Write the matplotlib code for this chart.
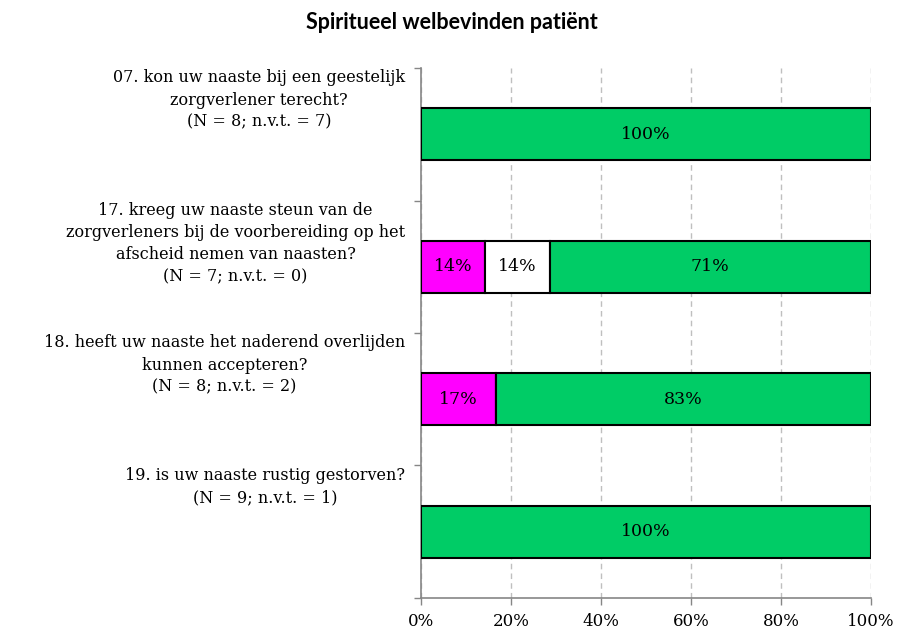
import matplotlib.pyplot as plt
import numpy as np

# data
questions = [
    "07. kon uw naaste bij een geestelijk\nzorgverlener terecht?\n(N = 8; n.v.t. = 7)",
    "17. kreeg uw naaste steun van de\nzorgverleners bij de voorbereiding op het\nafscheid nemen van naasten?\n(N = 7; n.v.t. = 0)",
    "18. heeft uw naaste het naderend overlijden\nkunnen accepteren?\n(N = 8; n.v.t. = 2)",
    "19. is uw naaste rustig gestorven?\n(N = 9; n.v.t. = 1)",
]
nee = [0, 14.3, 16.7, 0]
neutraal = [0, 14.3, 0, 0]
ja = [100, 71.4, 83.3, 100]

series = [nee, neutraal, ja]
colors = ['#FF00FF', '#FFFFFF', '#00CC66']
xticks = [0, 20, 40, 60, 80, 100]

plt.rcParams['font.family'] = ['DejaVu Serif']

fig = plt.figure(figsize=(9.03, 6.35), dpi=100)
ax = fig.add_axes([0.4662, 0.0583, 0.4984, 0.8346])

n = len(questions)
ypos = np.arange(n) + 0.5
left = np.zeros(n)
for vals, c in zip(series, colors):
    vals = np.array(vals, dtype=float)
    ax.barh(ypos, vals, left=left, height=0.39, color=c,
            edgecolor='black', linewidth=1.5, zorder=3)
    for y, l, v in zip(ypos, left, vals):
        if v > 0:
            ax.text(l + v / 2, y, f"{round(v):d}%", ha='center', va='center',
                    fontsize=12.5, zorder=4)
    left += vals

ax.set_xlim(0, 100)
ax.set_ylim(n, 0)
ax.set_xticks(xticks)
ax.set_xticklabels([f"{t}%" for t in xticks], fontsize=12)
ax.xaxis.grid(True, linestyle=(0, (4, 3)), color='#BFBFBF', linewidth=1, zorder=0)

ax.set_yticks(np.arange(n + 1))
ax.set_yticklabels([])
ax.tick_params(axis='y', length=5, color='#868686', width=1)
ax.tick_params(axis='x', length=5, color='#868686', width=1, pad=6)

for s in ['top', 'right']:
    ax.spines[s].set_visible(False)
for s in ['left', 'bottom']:
    ax.spines[s].set_color('#868686')
    ax.spines[s].set_linewidth(1.2)

# question labels, top aligned to each band
for i, q in enumerate(questions):
    ax.text(-0.035, i + 0.01, q, transform=ax.get_yaxis_transform(),
            ha='right', va='top', multialignment='center', fontsize=11.5,
            linespacing=1.4)

fig.text(0.5, 0.965, "Spiritueel welbevinden patiënt", ha='center', va='center',
         fontsize=15.5, fontweight='bold', family=['Lato', 'DejaVu Sans'])

plt.savefig("out.png", dpi=100)
